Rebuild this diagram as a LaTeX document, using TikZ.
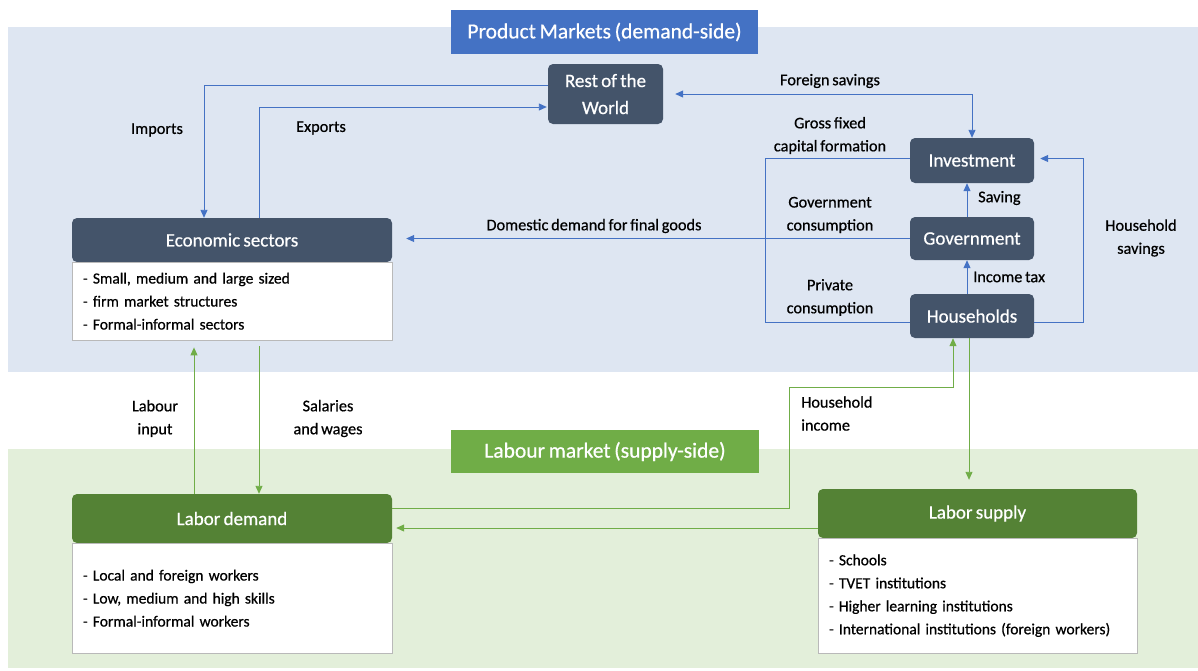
\documentclass[tikz,border=0pt]{standalone}
\usepackage{fontspec}
\setmainfont{Carlito}[FakeBold=0.6, WordSpace=0.75]
\usetikzlibrary{arrows.meta,calc}
\definecolor{bgblue}{HTML}{DEE6F2}
\definecolor{bggreen}{HTML}{E3EFDA}
\definecolor{darkbox}{HTML}{44546A}
\definecolor{titleblue}{HTML}{4472C4}
\definecolor{titlegreen}{HTML}{70AD47}
\definecolor{headgreen}{HTML}{548235}
\definecolor{lineblue}{HTML}{4472C4}
\definecolor{linegreen}{HTML}{70AD47}
\begin{document}
\begin{tikzpicture}[x=1pt,y=-1pt,
  dbox/.style={fill=darkbox, rounded corners=5pt, text=white, font=\fontsize{19}{27}\selectfont, align=center, inner sep=0pt},
  gbox/.style={fill=headgreen, rounded corners=5pt, text=white, font=\fontsize{19}{22}\selectfont, align=center, inner sep=0pt},
  titlebox/.style={text=white, font=\fontsize{21.5}{24}\selectfont, inner sep=0pt, minimum height=44pt},
  body/.style={draw=gray!55, fill=white, font=\fontsize{15.5}{23}\selectfont, align=left, inner xsep=11pt, inner ysep=0pt},
  lab/.style={font=\fontsize{16.3}{23}\selectfont, align=center, inner sep=0pt},
  barrow/.style={draw=lineblue, line width=0.9pt, -{Triangle[width=7pt,length=8pt]}},
  bline/.style={draw=lineblue, line width=0.9pt},
  garrow/.style={draw=linegreen, line width=0.9pt, -{Triangle[width=7pt,length=8pt]}},
]
\useasboundingbox (0,0) rectangle (1198,670);
% backgrounds
\fill[bgblue] (8,27) rectangle (1198,372);
\fill[bggreen] (8,449) rectangle (1198,668);

% titles
\node[titlebox, fill=titleblue, minimum width=307pt] (tprod) at (604.5,32) {Product Markets (demand-side)};
\node[titlebox, fill=titlegreen, minimum width=308pt, minimum height=43pt] (tlab) at (605,451.5) {Labour market (supply-side)};

% top nodes
\node[dbox, minimum width=115pt, minimum height=60pt] (row) at (605.5,94) {Rest of the\\World};
\node[dbox, minimum width=320pt, minimum height=44pt] (es) at (232,240) {Economic sectors};
\node[body, anchor=north, minimum height=78pt, text width=298pt] (esb) at (232,262) {- Small, medium and large sized\\- firm market structures\\- Formal-informal sectors};
\node[dbox, minimum width=124pt, minimum height=45pt] (inv) at (972,160.5) {Investment};
\node[dbox, minimum width=124pt, minimum height=43pt] (gov) at (972,238.5) {Government};
\node[dbox, minimum width=124pt, minimum height=44pt] (hh) at (972,316) {Households};

% bottom nodes
\node[gbox, minimum width=320pt, minimum height=49pt] (ld) at (232,518.5) {Labor demand};
\node[body, anchor=north, minimum height=110pt, text width=298pt] (ldb) at (232,543) {- Local and foreign workers\\- Low, medium and high skills\\- Formal-informal workers};
\node[gbox, minimum width=319pt, minimum height=49pt] (ls) at (977.5,513.5) {Labor supply};
\node[body, anchor=north, minimum height=115pt, text width=297pt] (lsb) at (977.5,538) {- Schools\\- TVET institutions\\- Higher learning institutions\\- International institutions (foreign workers)};

% coordinates
\coordinate (junc) at (765,240);
\coordinate (hs) at (1083,322);
\coordinate (hi) at (789,387);
\coordinate (hd) at ([xshift=-3pt]hh.south);

% blue connectors
\draw[barrow] ([yshift=9pt]row.west) -| ([xshift=-28pt]es.north);
\draw[barrow, shorten >=1pt] ([xshift=27pt]es.north) |- ([yshift=-13pt]row.west);
\draw[barrow, {Triangle[width=7pt,length=8pt]}-{Triangle[width=7pt,length=8pt]}, shorten <=12pt] (row.east) -| (inv.north);
\draw[bline] ([yshift=2pt]inv.west) -| (junc);
\draw[bline] ([yshift=-6pt]hh.west) -| (junc);
\draw[barrow, shorten >=14pt] (gov.west) -- (gov.west -| es.east);
\draw[barrow] ([xshift=-5pt]gov.north) -- ([xshift=-5pt]inv.south);
\draw[barrow] ([xshift=-5pt]hh.north) -- ([xshift=-5pt]gov.south);
\draw[barrow, shorten >=6pt] ([yshift=-6pt]hh.east) -- (hs) |- ([yshift=2pt]inv.east);

% green connectors
\draw[garrow, shorten >=7pt] ([xshift=-38pt]ld.north) -- ([xshift=-38pt]esb.south);
\draw[garrow, shorten <=6pt] ([xshift=27pt]esb.south) -- ([xshift=27pt]ld.north);
\draw[garrow] ([yshift=10pt]ld.east) -| (hi) -| ([xshift=-19pt]hh.south);
\draw[garrow, shorten >=4pt] ([yshift=-14.5pt]ls.west) -- ([yshift=-14.5pt]ls.west -| ld.east);
\draw[garrow, shorten >=9pt] (hd) -- (hd |- ls.north);

% labels
\node[lab] (limp) at (157,130) {Imports};
\node[lab] (lexp) at (321,128) {Exports};
\node[lab] (ldom) at (594,226) {Domestic demand for final goods};
\node[lab] (lfor) at (830,81) {Foreign savings};
\node[lab] (lgfc) at (830,135.5) {Gross fixed\\capital formation};
\node[lab] (lgc) at (830,215) {Government\\consumption};
\node[lab] (lpc) at (830,297.5) {Private\\consumption};
\node[lab, anchor=west] (lsav) at (978,198) {Saving};
\node[lab, anchor=west] (ltax) at (973,277) {Income tax};
\node[lab] (lhs) at (1141,238) {Household\\savings};
\node[lab] (llab) at (155,418.5) {Labour\\input};
\node[lab] (lsal) at (328,418.5) {Salaries\\and wages};
\node[lab, anchor=west, align=left] (lhi) at (801,413.5) {Household\\income};
\end{tikzpicture}
\end{document}
